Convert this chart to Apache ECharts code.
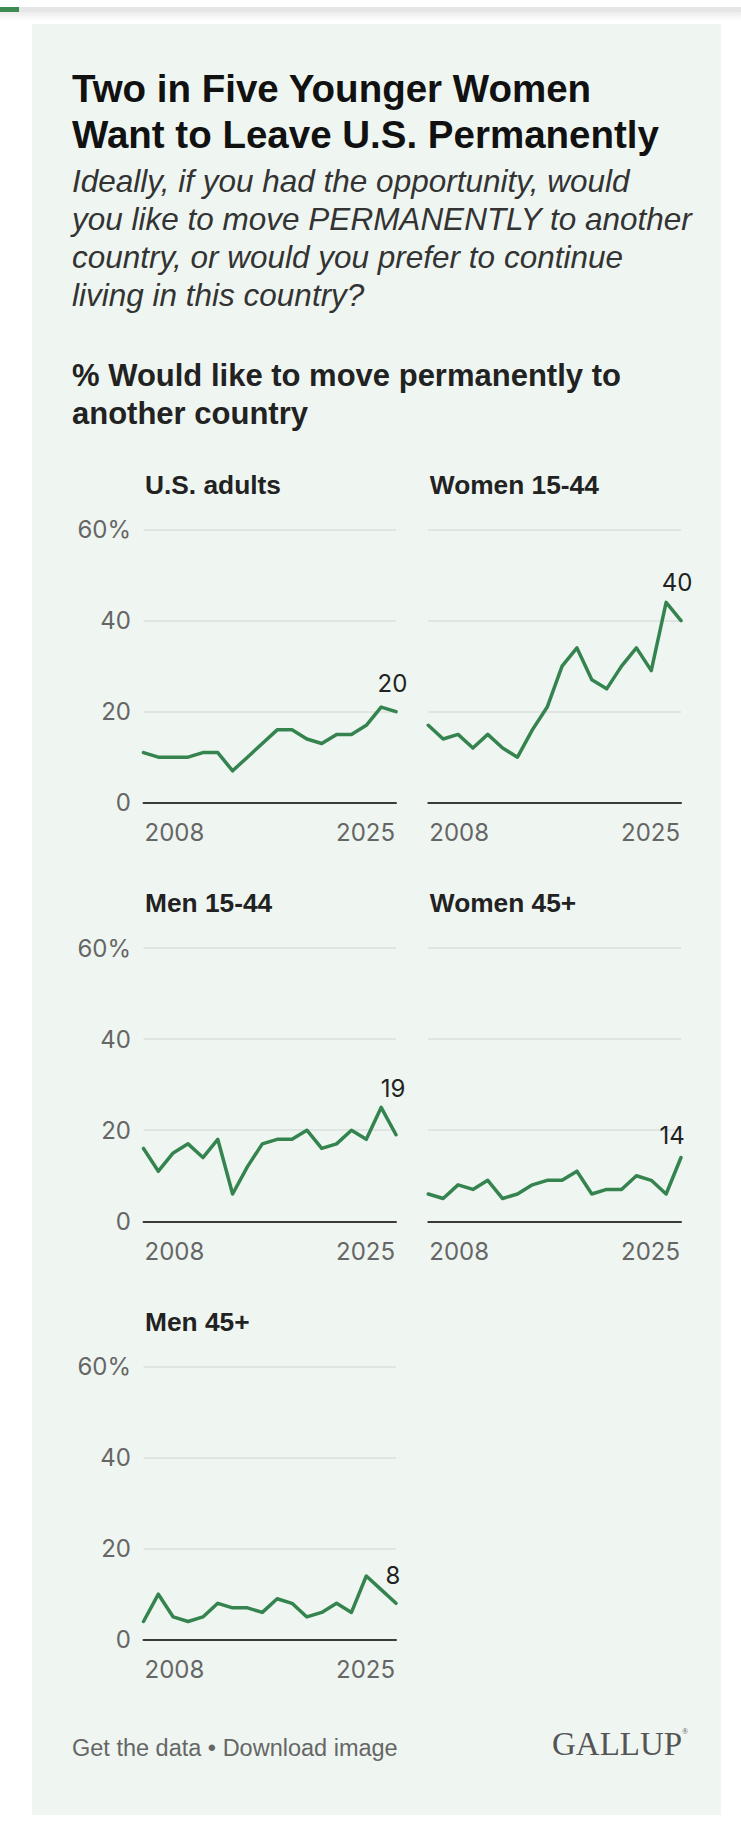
<!DOCTYPE html>
<html>
<head>
<meta charset="utf-8">
<script src="https://cdn.jsdelivr.net/npm/echarts@6/dist/echarts.min.js"></script>
<style>
html,body{margin:0;padding:0;background:#fff;}
#chart{width:741px;height:1831px;}
</style>
</head>
<body>
<div id="chart"></div>
<script>
// ---- data ----
const years = ['2008','2009','2010','2011','2012','2013','2014','2015','2016','2017','2018','2019','2020','2021','2022','2023','2024','2025'];
const panelTitles = ['U.S. adults','Women 15-44','Men 15-44','Women 45+','Men 45+'];
const usAdults   = [11,10,10,10,11,11,7,10,13,16,16,14,13,15,15,17,21,20];
const women1544  = [17,14,15,12,15,12,10,16,21,30,34,27,25,30,34,29,44,40];
const men1544    = [16,11,15,17,14,18,6,12,17,18,18,20,16,17,20,18,25,19];
const women45    = [6,5,8,7,9,5,6,8,9,9,11,6,7,7,10,9,6,14];
const men45      = [4,10,5,4,5,8,7,7,6,9,8,5,6,8,6,14,11,8];
const yTicks = [0,20,40,60];
const seriesData = [usAdults, women1544, men1544, women45, men45];

// ---- layout (positions/styles, separate from data) ----
const gridLayout = [
  {left:143.5, top:529.5, width:252.5, height:273.2, yLabels:true},
  {left:428.3, top:529.5, width:252.7, height:273.2, yLabels:false},
  {left:143.5, top:948,   width:252.5, height:273.3, yLabels:true},
  {left:428.3, top:948,   width:252.7, height:273.3, yLabels:false},
  {left:143.5, top:1366.7,width:252.5, height:273.0, yLabels:true}
];
const labelOffsets = [[-3.5,-28],[-4,-38],[-3,-46],[-9,-22],[-3,-28]];

const GREEN = '#35844f';
const AXISFONT = 'Inter';
const SANS = '"Liberation Sans", Arial, sans-serif';

// measure year label widths for edge alignment
const mctx = document.createElement('canvas').getContext('2d');
mctx.font = '24px Inter';
const wFirst = mctx.measureText(years[0]).width;
const wLast = mctx.measureText(years[years.length-1]).width;

const chart = echarts.init(document.getElementById('chart'), null, {renderer:'svg'});

const grids = [], xAxes = [], yAxes = [], series = [];
gridLayout.forEach((g, i) => {
  grids.push({left:g.left, top:g.top, width:g.width, height:g.height, containLabel:false});
  xAxes.push({
    type:'category', gridIndex:i, data:years, boundaryGap:false,
    axisLine:{show:true, lineStyle:{color:'#3a3a3a', width:2}},
    axisTick:{show:false},
    splitLine:{show:false},
    axisLabel:{
      show:true, margin:18, color:'#666', fontFamily:AXISFONT, fontSize:24,
      interval:(idx)=> idx===0 || idx===years.length-1,
      formatter:(v, idx)=> idx===0 ? '{l|'+v+'}' : '{r|'+v+'}',
      rich:{
        l:{color:'#666', fontFamily:AXISFONT, fontSize:24, padding:[0,0,0,wFirst+2]},
        r:{color:'#666', fontFamily:AXISFONT, fontSize:24, padding:[0,wLast+2,0,0]}
      }
    },
    z:5
  });
  yAxes.push({
    type:'value', gridIndex:i, min:0, max:60, interval:20,
    axisLine:{show:false}, axisTick:{show:false},
    splitLine:{show:true, lineStyle:{color:'#dae1dc', width:1.5}},
    axisLabel:{
      show:g.yLabels, margin:12.5, color:'#666', fontFamily:AXISFONT, fontSize:24,
      formatter:(v)=> v===yTicks[yTicks.length-1] ? v+'%' : String(v)
    }
  });
  const arr = seriesData[i];
  const last = arr.length-1;
  series.push({
    type:'line', xAxisIndex:i, yAxisIndex:i, name:panelTitles[i],
    symbol:'circle', symbolSize:0, showSymbol:true,
    lineStyle:{color:GREEN, width:3.5, join:'round', cap:'round'},
    itemStyle:{color:GREEN},
    emphasis:{disabled:true},
    silent:true, animation:false,
    data:arr.map((v, k)=> k===last ? {
      value:v,
      label:{show:true, position:'inside', offset:labelOffsets[i], formatter:'{c}',
             color:'#222', fontFamily:AXISFONT, fontSize:24, align:'center', verticalAlign:'middle'}
    } : v),
    z:3
  });
});

const graphics = [
  // top bar
  {type:'rect', shape:{x:0,y:7,width:741,height:5}, style:{fill:'#e6e6e6'}, z:-10},
  {type:'rect', shape:{x:0,y:12,width:741,height:9}, style:{fill:{type:'linear',x:0,y:0,x2:0,y2:1,colorStops:[{offset:0,color:'#ececec'},{offset:1,color:'#ffffff'}]}}, z:-10},
  {type:'rect', shape:{x:0,y:7,width:19,height:5}, style:{fill:'#3d8b50'}, z:-9},
  // panel background
  {type:'rect', shape:{x:32,y:24,width:689,height:1791}, style:{fill:'#eff6f1'}, z:-10},
  // title
  {type:'text', x:72, y:65, style:{text:'Two in Five Younger Women\nWant to Leave U.S. Permanently', font:'bold 38.5px '+SANS, fill:'#111', lineHeight:46, verticalAlign:'top'}},
  // subtitle
  {type:'text', x:72, y:162, style:{text:'Ideally, if you had the opportunity, would\nyou like to move PERMANENTLY to another\ncountry, or would you prefer to continue\nliving in this country?', font:'italic 31.5px '+SANS, fill:'#333', lineHeight:38, verticalAlign:'top'}},
  // section header
  {type:'text', x:72, y:357, style:{text:'% Would like to move permanently to\nanother country', font:'bold 31px '+SANS, fill:'#222', lineHeight:37.5, verticalAlign:'top'}},
  // footer
  {type:'text', x:72, y:1747.5, style:{text:'Get the data \u2022 Download image', font:'23.5px '+SANS, fill:'#666', verticalAlign:'middle'}},
  {type:'text', x:552, y:1744, style:{text:'GALLUP', font:'33px "Liberation Serif", "Times New Roman", serif', fill:'#555', verticalAlign:'middle'}},
  {type:'text', x:682, y:1731, style:{text:'\u00ae', font:'8px "Liberation Serif", serif', fill:'#555', verticalAlign:'middle'}}
];
// panel titles
gridLayout.forEach((g, i) => {
  graphics.push({type:'text', x:g.left+1.5, y:g.top-45, style:{text:panelTitles[i], font:'bold 26.3px '+SANS, fill:'#222', verticalAlign:'middle'}});
});

chart.setOption({
  animation:false,
  backgroundColor:'#ffffff',
  grid:grids, xAxis:xAxes, yAxis:yAxes, series:series,
  graphic:graphics
});
</script>
</body>
</html>
